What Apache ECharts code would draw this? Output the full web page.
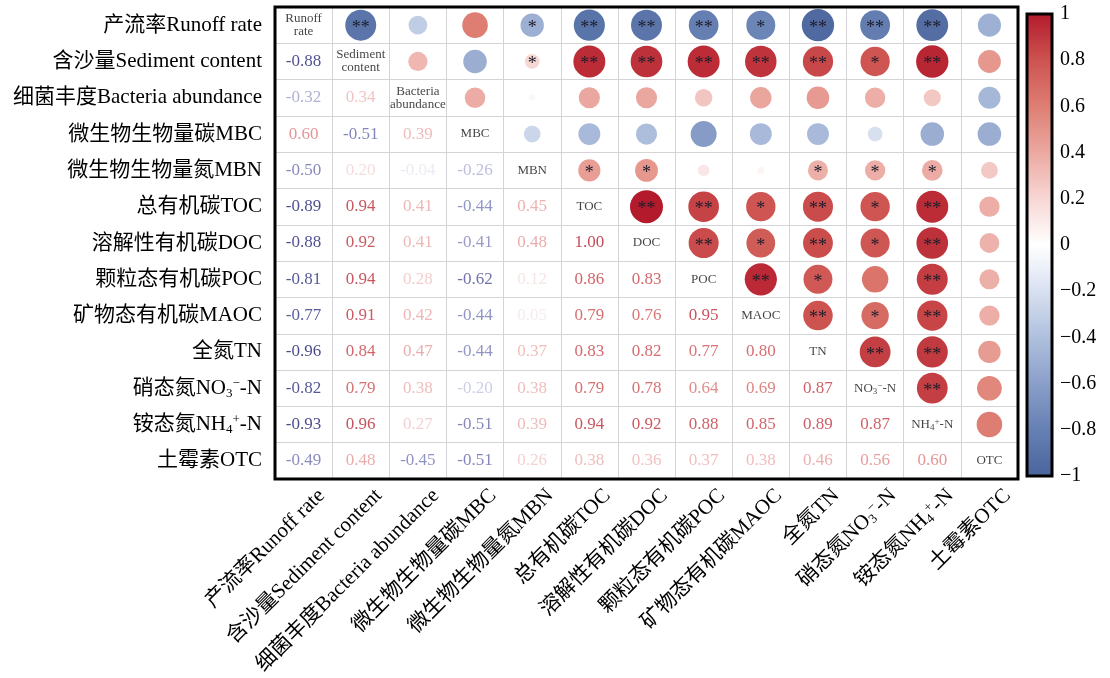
<!DOCTYPE html>
<html>
<head>
<meta charset="utf-8">
<title>相关性矩阵</title>
<script src="https://cdn.jsdelivr.net/npm/echarts@6/dist/echarts.min.js"></script>
<style>
  html, body { margin: 0; padding: 0; background: #fff; }
  #chart { width: 1110px; height: 678px; }
</style>
</head>
<body>
<div id="chart"></div>
<script>
// ---- data -------------------------------------------------------------
// Variables (rich-text markup: {sub|..} subscript, {sup|..} superscript)
const axisNames = [
  '产流率Runoff rate',
  '含沙量Sediment content',
  '细菌丰度Bacteria abundance',
  '微生物生物量碳MBC',
  '微生物生物量氮MBN',
  '总有机碳TOC',
  '溶解性有机碳DOC',
  '颗粒态有机碳POC',
  '矿物态有机碳MAOC',
  '全氮TN',
  '硝态氮NO{sub|3}{sup|−}-N',
  '铵态氮NH{sub|4}{sup|+}-N',
  '土霉素OTC'
];

// Short names written on the diagonal
const diagNames = [
  'Runoff\nrate', 'Sediment\ncontent', 'Bacteria\nabundance', 'MBC', 'MBN',
  'TOC', 'DOC', 'POC', 'MAOC', 'TN',
  'NO{sub|3}{sup|−}-N', 'NH{sub|4}{sup|+}-N', 'OTC'
];

// Correlation coefficients, lower triangle (row i, columns 0..i-1)
const coef = [
  [],
  [-0.88],
  [-0.32, 0.34],
  [0.60, -0.51, 0.39],
  [-0.50, 0.20, -0.04, -0.26],
  [-0.89, 0.94, 0.41, -0.44, 0.45],
  [-0.88, 0.92, 0.41, -0.41, 0.48, 1.00],
  [-0.81, 0.94, 0.28, -0.62, 0.12, 0.86, 0.83],
  [-0.77, 0.91, 0.42, -0.44, 0.05, 0.79, 0.76, 0.95],
  [-0.96, 0.84, 0.47, -0.44, 0.37, 0.83, 0.82, 0.77, 0.80],
  [-0.82, 0.79, 0.38, -0.20, 0.38, 0.79, 0.78, 0.64, 0.69, 0.87],
  [-0.93, 0.96, 0.27, -0.51, 0.39, 0.94, 0.92, 0.88, 0.85, 0.89, 0.87],
  [-0.49, 0.48, -0.45, -0.51, 0.26, 0.38, 0.36, 0.37, 0.38, 0.46, 0.56, 0.60]
];

// Significance marks, upper triangle (row i, columns i+1..12)
const signif = [
  ['**', '', '', '*', '**', '**', '**', '*', '**', '**', '**', ''],
  ['', '', '*', '**', '**', '**', '**', '**', '*', '**', ''],
  ['', '', '', '', '', '', '', '', '', ''],
  ['', '', '', '', '', '', '', '', ''],
  ['*', '*', '', '', '*', '*', '*', ''],
  ['**', '**', '*', '**', '*', '**', ''],
  ['**', '*', '**', '*', '**', ''],
  ['**', '*', '', '**', ''],
  ['**', '*', '**', ''],
  ['**', '**', ''],
  ['**', ''],
  ['']
];

// Colour-bar tick values
const barTicks = [-1, -0.8, -0.6, -0.4, -0.2, 0, 0.2, 0.4, 0.6, 0.8, 1];

// ---- colours ----------------------------------------------------------
const circleColors = ['#4a659c', '#6680b3', '#8a9fc9', '#afc0dd', '#d8e0f0', '#ffffff',
                      '#f7d7d4', '#eba9a1', '#de7e72', '#cd5350', '#b31b2c'];
const textNeg = ['#181864', '#2c2f80', '#4f529e', '#8084bb', '#c0c3df', '#f0f0f4']; // -1 .. 0
const textPos = ['#f2eeee', '#f5d3d3', '#eba8a8', '#de7b7a', '#cb4a4d', '#b51d2d']; //  0 .. 1

function hexRgb(h) {
  return [parseInt(h.slice(1, 3), 16), parseInt(h.slice(3, 5), 16), parseInt(h.slice(5, 7), 16)];
}
function ramp(stops, t) {
  t = Math.max(0, Math.min(1, t));
  const n = stops.length - 1;
  const k = Math.min(n - 1, Math.floor(t * n));
  const f = t * n - k;
  const a = hexRgb(stops[k]), b = hexRgb(stops[k + 1]);
  const c = a.map((v, idx) => Math.round(v + (b[idx] - v) * f));
  return 'rgb(' + c.join(',') + ')';
}
function textColor(r) {
  return r < 0 ? ramp(textNeg, r + 1) : ramp(textPos, r);
}

// ---- marks ------------------------------------------------------------
const n = axisNames.length;
const circleData = [];
const numberData = [];
const diagData = [];

for (let i = 0; i < n; i++) {
  diagData.push([i, i, diagNames[i]]);
  for (let j = 0; j < i; j++) {
    const r = coef[i][j];
    // lower triangle: printed coefficient
    numberData.push({ value: [j, i, r], label: { color: textColor(r) } });
    // upper triangle: circle (row j, column i)
    circleData.push([i, j, r, signif[j][i - j - 1]]);
  }
}

const FONT = '"Liberation Serif", "Times New Roman", "Noto Sans CJK SC", serif';
const richMarks = {
  sub: { fontSize: 13, fontFamily: FONT, color: '#000', verticalAlign: 'bottom', lineHeight: 23 },
  sup: { fontSize: 13, fontFamily: FONT, color: '#000', verticalAlign: 'top', lineHeight: 23 }
};
const richDiag = {
  sub: { fontSize: 9, fontFamily: FONT, color: '#111', verticalAlign: 'bottom', lineHeight: 15 },
  sup: { fontSize: 9, fontFamily: FONT, color: '#111', verticalAlign: 'top', lineHeight: 15 }
};

const G = { left: 275, top: 7, width: 743, height: 472 };
const BAR = { left: 1027, top: 14, width: 25, height: 462 };
const gridLine = { show: true, interval: 0, lineStyle: { color: '#d4d4d8', width: 1 } };

const chart = echarts.init(document.getElementById('chart'), null, { renderer: 'canvas' });

chart.setOption({
  animation: false,
  backgroundColor: '#fff',
  textStyle: { fontFamily: FONT },
  grid: [
    { left: G.left, top: G.top, width: G.width, height: G.height },
    { left: G.left + 18, top: G.top, width: G.width, height: G.height, show: false },
    { left: BAR.left, top: BAR.top, width: BAR.width, height: BAR.height, show: false }
  ],
  xAxis: [
    {
      gridIndex: 0, type: 'category', data: axisNames,
      axisLine: { show: false }, axisTick: { show: false, interval: 0 },
      axisLabel: { show: false, interval: 0 },
      splitLine: gridLine
    },
    {
      gridIndex: 1, type: 'category', data: axisNames, position: 'bottom',
      axisLine: { show: false }, axisTick: { show: false }, splitLine: { show: false },
      axisLabel: {
        interval: 0, rotate: 45, margin: 16, fontSize: 21, color: '#000',
        fontFamily: FONT, rich: richMarks
      }
    },
    { gridIndex: 2, type: 'value', show: false, min: 0, max: 1 }
  ],
  yAxis: [
    {
      gridIndex: 0, type: 'category', data: axisNames, inverse: true,
      axisLine: { show: false }, axisTick: { show: false, interval: 0 },
      axisLabel: { interval: 0, margin: 13, fontSize: 21, color: '#000', fontFamily: FONT, rich: richMarks },
      splitLine: gridLine
    },
    { gridIndex: 1, type: 'category', data: axisNames, show: false },
    {
      gridIndex: 2, type: 'value', min: -1, max: 1, interval: 0.2, position: 'right',
      axisLine: { show: false },
      axisTick: { show: true, inside: false, length: 5, lineStyle: { color: '#000', width: 2 } },
      splitLine: { show: false },
      axisLabel: {
        margin: 8, fontSize: 20, color: '#000', fontFamily: FONT,
        formatter: v => {
          const t = barTicks.find(b => Math.abs(b - v) < 1e-6);
          const val = t === undefined ? v : t;
          return val < 0 ? '−' + Math.abs(val) : String(Math.abs(val) < 1e-9 ? 0 : val);
        }
      }
    }
  ],
  visualMap: {
    type: 'continuous', min: -1, max: 1, dimension: 2, seriesIndex: 0,
    inRange: { color: circleColors },
    orient: 'vertical', left: BAR.left, top: BAR.top,
    itemWidth: BAR.width, itemHeight: BAR.height,
    calculable: false, hoverLink: false, text: null, padding: 0,
    textStyle: { color: 'rgba(0,0,0,0)' }
  },
  graphic: [
    {
      type: 'rect', z: 100, silent: true,
      shape: { x: G.left, y: G.top, width: G.width, height: G.height },
      style: { fill: 'none', stroke: '#000', lineWidth: 3 }
    },
    {
      type: 'rect', z: 100, silent: true,
      shape: { x: BAR.left, y: BAR.top, width: BAR.width, height: BAR.height },
      style: { fill: 'none', stroke: '#000', lineWidth: 3 }
    }
  ],
  series: [
    {
      // circles: size and colour by coefficient, stars for significance
      type: 'scatter', xAxisIndex: 0, yAxisIndex: 0, data: circleData,
      symbol: 'circle',
      symbolSize: v => 33 * Math.sqrt(Math.abs(v[2])),
      itemStyle: { opacity: 1 },
      label: {
        show: true, position: 'inside', formatter: p => p.data[3],
        fontSize: 18, color: '#1d1d2b', fontFamily: FONT, offset: [0, 3]
      },
      emphasis: { disabled: true }
    },
    {
      // printed coefficients
      type: 'scatter', xAxisIndex: 0, yAxisIndex: 0, data: numberData,
      symbolSize: 0, silent: true,
      label: {
        show: true, position: 'inside', fontSize: 17, fontFamily: FONT,
        formatter: p => p.value[2].toFixed(2)
      },
      emphasis: { disabled: true }
    },
    {
      // variable names on the diagonal
      type: 'scatter', xAxisIndex: 0, yAxisIndex: 0, data: diagData,
      symbolSize: 0, silent: true,
      label: {
        show: true, position: 'inside', fontSize: 13, lineHeight: 13,
        color: '#111', fontFamily: FONT, align: 'center',
        formatter: p => p.data[2], rich: richDiag
      },
      emphasis: { disabled: true }
    }
  ]
});
</script>
</body>
</html>
